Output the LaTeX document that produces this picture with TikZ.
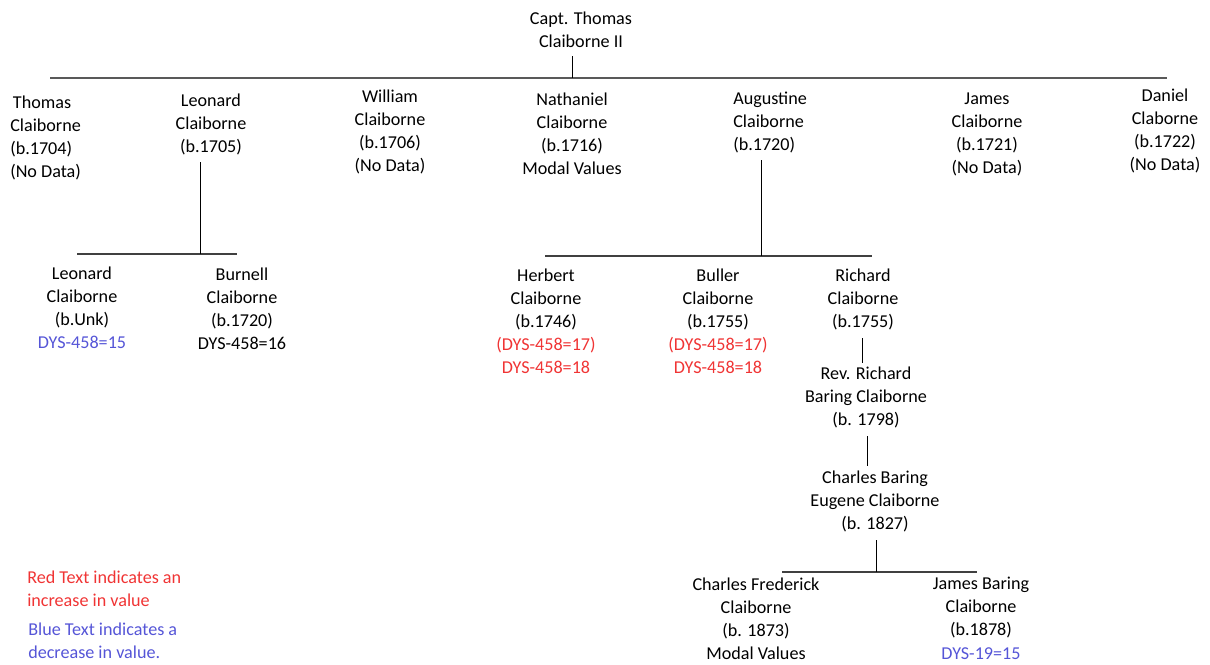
\documentclass[tikz,border=0pt]{standalone}
\usepackage{fontspec}
\setmainfont{Carlito}
\usepackage{xcolor}
\usetikzlibrary{positioning}

\definecolor{upred}{RGB}{240,52,52}
\definecolor{downblue}{RGB}{85,85,215}

\begin{document}
\begin{tikzpicture}[
    x=0.75pt, y=-0.75pt,
    person/.style={
        inner sep=0pt, align=center,
        font=\fontsize{13.6}{17.25}\selectfont
    },
    personl/.style={
        person, align=left, anchor=west
    },
    link/.style={
        draw, line width=0.6pt
    },
    bar/.style={
        draw=black!75, line width=0.9pt
    },
    topbar/.style={
        draw=black!65, line width=1.3pt
    }
]
\useasboundingbox (0,0) rectangle (1210,664);

% first generation
\node [person] (capt) at (581,30) {Capt. Thomas\\Claiborne II};

\node [personl] (thomas)    at (10,138)  {\hspace{2pt}Thomas\\Claiborne\\(b.1704)\\(No Data)};
\node [person]  (leonard)   at (211,124) {Leonard\\Claiborne\\(b.1705)};
\node [person]  (william)   at (390,132) {William\\Claiborne\\(b.1706)\\(No Data)};
\node [person]  (nathaniel) at (572,134) {Nathaniel\\Claiborne\\(b.1716)\\Modal Values};
\node [personl] (augustine) at (733,122) {Augustine\\Claiborne\\(b.1720)};
\node [person]  (james)     at (987,134) {James\\Claiborne\\(b.1721)\\(No Data)};
\node [person]  (daniel)    at (1165,131) {Daniel\\Claborne\\(b.1722)\\(No Data)};

% sons of Leonard
\node [person] (leonardjr) at (82,308)  {Leonard\\Claiborne\\(b.Unk)\\\textcolor{downblue}{DYS-458=15}};
\node [person] (burnell)   at (242,309) {Burnell\\Claiborne\\(b.1720)\\DYS-458=16};

% sons of Augustine
\node [person] (herbert) at (546,321) {Herbert\\Claiborne\\(b.1746)\\\textcolor{upred}{(DYS-458=17)}\\\textcolor{upred}{DYS-458=18}};
\node [person] (buller)  at (718,321) {Buller\\Claiborne\\(b.1755)\\\textcolor{upred}{(DYS-458=17)}\\\textcolor{upred}{DYS-458=18}};
\node [person] (richard) at (863,299) {Richard\\Claiborne\\(b.1755)};

\node [person] (revrichard) at (866,397) {Rev. Richard\\Baring Claiborne\\(b. 1798)};
\node [person] (charlesb)   at (875,501) {Charles Baring\\Eugene Claiborne\\(b. 1827)};

\node [person] (charlesf) at (756,619) {Charles Frederick\\Claiborne\\(b. 1873)\\Modal Values};
\node [person] (jamesb)   at (981,618) {James Baring\\Claiborne\\(b.1878)\\[1pt]\textcolor{downblue}{DYS-19=15}};

% legend
\node [personl, text=upred]    (legred)  at (27,589)  {Red Text indicates an\\increase in value};
\node [personl, text=downblue] (legblue) at (28,641)  {Blue Text indicates a\\decrease in value.};

% connectors
\coordinate (capt stem)  at (572,56);
\coordinate (g1 west)    at (50,78);
\coordinate (g1 east)    at (1167,78);
\draw [topbar] (g1 west) -- (g1 east);
\draw [link] (capt stem) -- (capt stem |- g1 west);

\coordinate (leonard stem) at (200,162);
\coordinate (g2a west)     at (77,254);
\coordinate (g2a east)     at (237,254);
\draw [bar]  (g2a west) -- (g2a east);
\draw [link] (leonard stem) -- (leonard stem |- g2a west);

\coordinate (augustine stem) at (761,160);
\coordinate (g2b west)       at (545,256);
\coordinate (g2b east)       at (872,256);
\draw [bar]  (g2b west) -- (g2b east);
\draw [link] (augustine stem) -- (augustine stem |- g2b west);

\coordinate (richard stem) at (862,338);
\coordinate (rev top)      at (862,363);
\draw [link] (richard stem) -- (rev top);

\coordinate (rev stem)     at (867,436);
\coordinate (charles top)  at (867,466);
\draw [link] (rev stem) -- (charles top);

\coordinate (charles stem) at (876,540);
\coordinate (g4 west)      at (782,572);
\coordinate (g4 east)      at (977,572);
\draw [bar]  (g4 west) -- (g4 east);
\draw [link] (charles stem) -- (charles stem |- g4 west);

\end{tikzpicture}
\end{document}
